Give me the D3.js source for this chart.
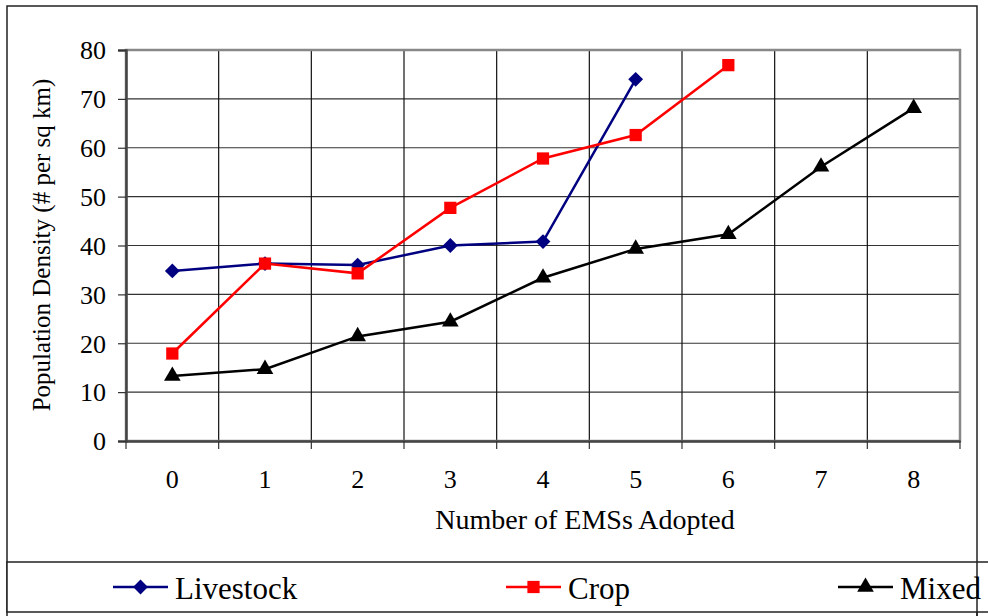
<!DOCTYPE html>
<html>
<head>
<meta charset="utf-8">
<script src="https://cdn.jsdelivr.net/npm/d3@7"></script>
<style>
  body { margin: 0; background: #fff; }
  svg text { font-family: "Liberation Serif", "Times New Roman", serif; fill: #000; }
</style>
</head>
<body>
<div id="chart"></div>
<script>
// data
var categories = [0, 1, 2, 3, 4, 5, 6, 7, 8];
var livestock = [34.8, 36.3, 36.0, 40.0, 40.8, 74.0];
var crop = [17.9, 36.3, 34.3, 47.7, 57.8, 62.6, 76.9];
var mixed = [13.3, 14.7, 21.4, 24.4, 33.4, 39.3, 42.3, 56.1, 68.1];
var yTicks = [0, 10, 20, 30, 40, 50, 60, 70, 80];
var seriesNames = ["Livestock", "Crop", "Mixed"];

(function() {
var W = 988, H = 616;
var pl = 126, pr = 960, pt = 50, pb = 441;

var svg = d3.select("#chart").append("svg")
  .attr("width", W).attr("height", H);

// outer frame
svg.append("rect").attr("x", 7).attr("y", 6).attr("width", 970).attr("height", 640)
  .attr("fill", "none").attr("stroke", "#222").attr("stroke-width", 1.5);

var x = d3.scaleBand().domain(categories).range([pl, pr]).paddingInner(0).paddingOuter(0);
var y = d3.scaleLinear().domain([0, 80]).range([pb, pt]);
var cx = function(i) { return x(categories[i]) + x.bandwidth() / 2; };

// gridlines
var g = svg.append("g");
g.selectAll(".hg").data(yTicks.slice(1)).enter().append("line")
  .attr("x1", pl).attr("x2", pr)
  .attr("y1", function(d) { return y(d); }).attr("y2", function(d) { return y(d); })
  .attr("stroke", "#333").attr("stroke-width", 1.2);
g.selectAll(".vg").data(categories.slice(1)).enter().append("line")
  .attr("x1", function(d) { return x(d); }).attr("x2", function(d) { return x(d); })
  .attr("y1", pt).attr("y2", pb)
  .attr("stroke", "#111").attr("stroke-width", 1.2);

// plot border
svg.append("rect").attr("x", pl).attr("y", pt).attr("width", pr - pl).attr("height", pb - pt)
  .attr("fill", "none").attr("stroke", "#888").attr("stroke-width", 2.5);

// y axis
var yAxis = svg.append("g").attr("transform", "translate(" + pl + ",0)")
  .call(d3.axisLeft(y).tickValues(yTicks).tickSize(8).tickPadding(12));
yAxis.select(".domain").attr("stroke", "#444").attr("stroke-width", 2.5);
yAxis.selectAll(".tick line").attr("stroke", "#333").attr("stroke-width", 1.2);
yAxis.selectAll("text").style("font-size", "26px").attr("dy", "0.34em");

// x axis: labels at band centres, tick marks at boundaries
var xAxis = svg.append("g").attr("transform", "translate(0," + pb + ")")
  .call(d3.axisBottom(x).tickSize(0).tickPadding(29));
xAxis.select(".domain").attr("stroke", "#444").attr("stroke-width", 2.5);
xAxis.selectAll("text").style("font-size", "26px");
svg.selectAll(".xt").data(categories.concat([null])).enter().append("line")
  .attr("x1", function(d) { return d === null ? pr : x(d); })
  .attr("x2", function(d) { return d === null ? pr : x(d); })
  .attr("y1", pb).attr("y2", pb + 8)
  .attr("stroke", "#333").attr("stroke-width", 1.2);

// axis titles
svg.append("text").attr("x", 585).attr("y", 529).attr("text-anchor", "middle")
  .style("font-size", "28px").text("Number of EMSs Adopted");
svg.append("text").attr("transform", "translate(50,245) rotate(-90)").attr("text-anchor", "middle")
  .style("font-size", "25px").text("Population Density (# per sq km)");

// series (diamond = square turned 45 degrees)
var series = [
  { name: seriesNames[0], values: livestock, color: "#000080", shape: d3.symbolSquare, size: 110, rot: 45 },
  { name: seriesNames[1], values: crop, color: "#FF0000", shape: d3.symbolSquare, size: 150, rot: 0 },
  { name: seriesNames[2], values: mixed, color: "#000000", shape: d3.symbolTriangle, size: 120, rot: 0 }
];
var line = d3.line().x(function(d, i) { return cx(i); }).y(function(d) { return y(d); });

series.forEach(function(s) {
  svg.append("path").datum(s.values).attr("d", line)
    .attr("fill", "none").attr("stroke", s.color).attr("stroke-width", 2.5);
  svg.selectAll(null).data(s.values).enter().append("path")
    .attr("d", d3.symbol().type(s.shape).size(s.size))
    .attr("transform", function(d, i) { return "translate(" + cx(i) + "," + y(d) + ") rotate(" + s.rot + ")"; })
    .attr("fill", s.color);
});

// legend box
svg.append("rect").attr("x", 7).attr("y", 562).attr("width", 1000).attr("height", 50)
  .attr("fill", "#fff").attr("stroke", "#222").attr("stroke-width", 1.5);
svg.append("line").attr("x1", 977).attr("x2", 977).attr("y1", 562).attr("y2", 616)
  .attr("stroke", "#222").attr("stroke-width", 1.5);
var legendX = [113, 506, 838];
series.forEach(function(s, i) {
  var lg = svg.append("g").attr("transform", "translate(" + legendX[i] + ",587)");
  lg.append("line").attr("x1", 0).attr("x2", 55).attr("stroke", s.color).attr("stroke-width", 2.5);
  lg.append("path").attr("d", d3.symbol().type(s.shape).size(s.size))
    .attr("transform", "translate(27.5,0) rotate(" + s.rot + ")").attr("fill", s.color);
  lg.append("text").attr("x", 62).attr("y", 12).style("font-size", "31px").text(s.name);
});
})();
</script>
</body>
</html>
